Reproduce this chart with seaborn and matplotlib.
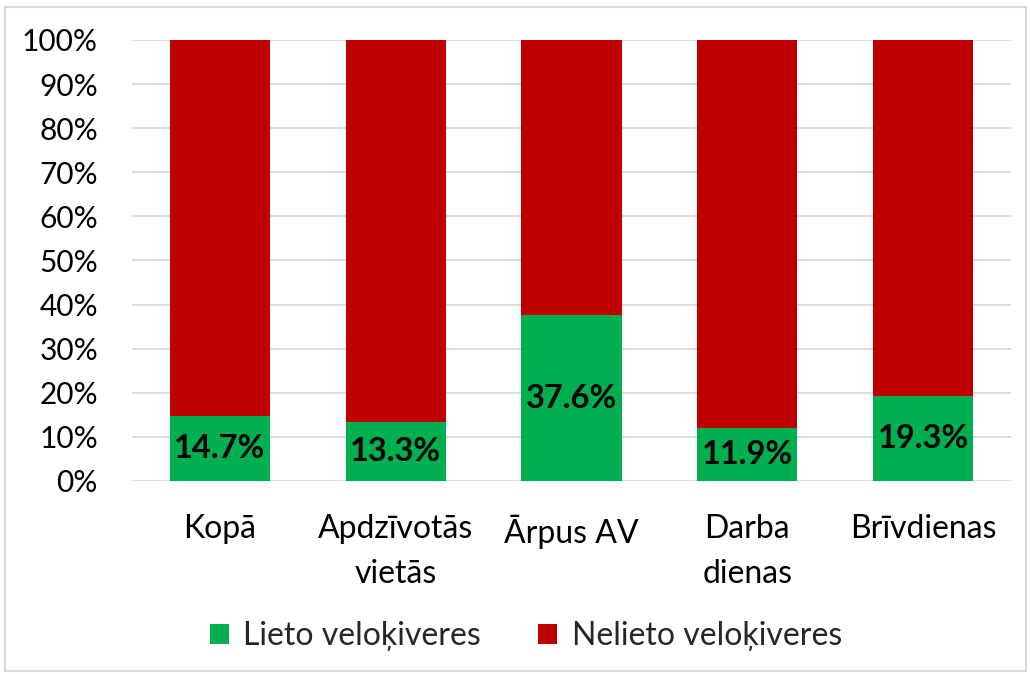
import matplotlib
matplotlib.use("Agg")
import matplotlib.pyplot as plt
import seaborn as sns
import pandas as pd
from matplotlib.patches import Rectangle, Patch
from matplotlib.ticker import PercentFormatter

categories = ["Kopā", "Apdzīvotās\nvietās", "Ārpus AV", "Darba\ndienas", "Brīvdienas"]
lieto = [14.7, 13.3, 37.6, 11.9, 19.3]
nelieto = [85.3, 86.7, 62.4, 88.1, 80.7]
series_names = ["Lieto veloķiveres", "Nelieto veloķiveres"]
yticks = [0, 10, 20, 30, 40, 50, 60, 70, 80, 90, 100]

GREEN = "#00B050"
RED = "#C00000"

sns.set_theme(style="white")
plt.rcParams["font.family"] = ["Lato", "DejaVu Sans"]

df = pd.DataFrame({"cat": categories, "lieto": lieto, "nelieto": nelieto})
df["total"] = df["lieto"] + df["nelieto"]

fig = plt.figure(figsize=(10.31, 6.74), dpi=100)
ax = fig.add_axes([0.128, 0.2864, 0.8526, 0.6543])

sns.barplot(data=df, x="cat", y="total", color=RED, width=0.57, ax=ax,
            saturation=1, linewidth=0, zorder=2)
sns.barplot(data=df, x="cat", y="lieto", color=GREEN, width=0.57, ax=ax,
            saturation=1, linewidth=0, zorder=3)

for i, v in enumerate(df["lieto"]):
    ax.text(i, v / 2, f"{v:.1f}%", ha="center", va="center",
            fontsize=23.5, fontweight="bold", color="black", zorder=4)

ax.set_ylim(0, 100)
ax.set_xlim(-0.5, len(categories) - 0.5)
ax.set_yticks(yticks)
ax.yaxis.set_major_formatter(PercentFormatter(100, decimals=0))
ax.yaxis.grid(True, color="#D9D9D9", linewidth=1.3, zorder=0)
ax.set_axisbelow(True)
for s in ax.spines.values():
    s.set_visible(False)
ax.set_xlabel("")
ax.set_ylabel("")
ax.tick_params(axis="y", length=0, pad=24.5, labelsize=21.5, labelcolor="#000000")
ax.tick_params(axis="x", length=0, pad=24, labelsize=23, labelcolor="#000000")
for lab in ax.get_xticklabels():
    lab.set_linespacing(1.6)

handles = [Patch(facecolor=GREEN, edgecolor="none"), Patch(facecolor=RED, edgecolor="none")]
fig.legend(handles, series_names, loc="center", bbox_to_anchor=(0.51, 0.056),
           ncol=2, frameon=False, fontsize=23, handlelength=0.6, handleheight=0.6,
           handletextpad=0.45, columnspacing=1.8)

fig.patches.append(Rectangle((0.005, 0.005), 0.99, 0.985, transform=fig.transFigure,
                             fill=False, edgecolor="#D9D9D9", linewidth=1.5))

fig.savefig("out.png", dpi=100)
